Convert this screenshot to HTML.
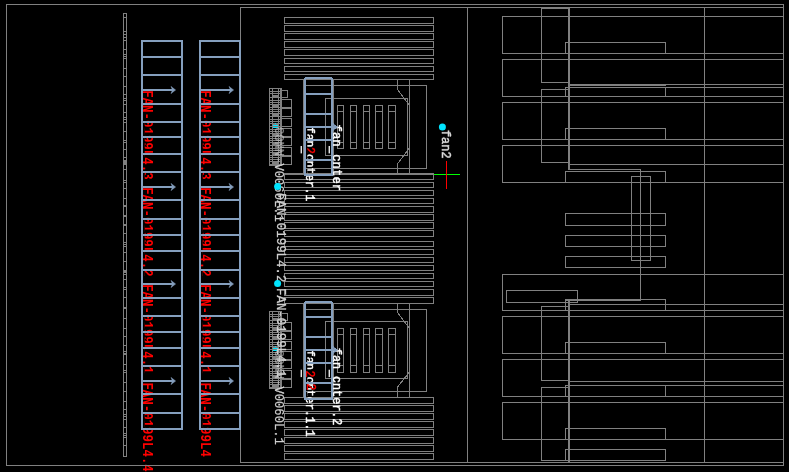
<!DOCTYPE html>
<html><head><meta charset="utf-8"><title>fan layout</title>
<style>
html,body{margin:0;padding:0;background:#000;overflow:hidden}
svg{display:block}
text{font-family:"Liberation Mono",monospace}
</style></head>
<body>
<svg width="789" height="472" viewBox="0 0 789 472">
<defs><clipPath id="half" clipPathUnits="userSpaceOnUse"><rect x="144.7" y="0" width="20" height="429"/><rect x="202.7" y="0" width="20" height="429"/><rect x="130" y="429" width="120" height="43"/></clipPath><clipPath id="half2" clipPathUnits="userSpaceOnUse"><rect x="307.4" y="0" width="200" height="472"/><rect x="300" y="175" width="10" height="125"/><rect x="300" y="399" width="10" height="73"/></clipPath></defs>
<rect width="789" height="472" fill="#000"/>
<g opacity="0.999"><text transform="translate(143 90.20) rotate(90) scale(0.9 1)" font-size="13.8" fill="#ff0000" font-weight="bold">FAN-</text><g clip-path="url(#half)"><text transform="translate(143 120.01) rotate(90) scale(0.9 1)" font-size="13.8" fill="#ff0000" font-weight="bold">0199L</text></g><text transform="translate(143 157.27) rotate(90) scale(0.9 1)" font-size="13.8" fill="#ff0000" font-weight="bold">4.</text><g clip-path="url(#half)"><text transform="translate(143 172.17) rotate(90) scale(0.9 1)" font-size="13.8" fill="#ff0000" font-weight="bold">3</text></g><text transform="translate(143 187.20) rotate(90) scale(0.9 1)" font-size="13.8" fill="#ff0000" font-weight="bold">FAN-</text><g clip-path="url(#half)"><text transform="translate(143 217.01) rotate(90) scale(0.9 1)" font-size="13.8" fill="#ff0000" font-weight="bold">0199L</text></g><text transform="translate(143 254.27) rotate(90) scale(0.9 1)" font-size="13.8" fill="#ff0000" font-weight="bold">4.</text><g clip-path="url(#half)"><text transform="translate(143 269.17) rotate(90) scale(0.9 1)" font-size="13.8" fill="#ff0000" font-weight="bold">2</text></g><text transform="translate(143 284.20) rotate(90) scale(0.9 1)" font-size="13.8" fill="#ff0000" font-weight="bold">FAN-</text><g clip-path="url(#half)"><text transform="translate(143 314.01) rotate(90) scale(0.9 1)" font-size="13.8" fill="#ff0000" font-weight="bold">0199L</text></g><text transform="translate(143 351.27) rotate(90) scale(0.9 1)" font-size="13.8" fill="#ff0000" font-weight="bold">4.</text><g clip-path="url(#half)"><text transform="translate(143 366.17) rotate(90) scale(0.9 1)" font-size="13.8" fill="#ff0000" font-weight="bold">1</text></g><text transform="translate(201 90.20) rotate(90) scale(0.9 1)" font-size="13.8" fill="#ff0000" font-weight="bold">FAN-</text><g clip-path="url(#half)"><text transform="translate(201 120.01) rotate(90) scale(0.9 1)" font-size="13.8" fill="#ff0000" font-weight="bold">0199L</text></g><text transform="translate(201 157.27) rotate(90) scale(0.9 1)" font-size="13.8" fill="#ff0000" font-weight="bold">4.</text><g clip-path="url(#half)"><text transform="translate(201 172.17) rotate(90) scale(0.9 1)" font-size="13.8" fill="#ff0000" font-weight="bold">3</text></g><text transform="translate(201 187.20) rotate(90) scale(0.9 1)" font-size="13.8" fill="#ff0000" font-weight="bold">FAN-</text><g clip-path="url(#half)"><text transform="translate(201 217.01) rotate(90) scale(0.9 1)" font-size="13.8" fill="#ff0000" font-weight="bold">0199L</text></g><text transform="translate(201 254.27) rotate(90) scale(0.9 1)" font-size="13.8" fill="#ff0000" font-weight="bold">4.</text><g clip-path="url(#half)"><text transform="translate(201 269.17) rotate(90) scale(0.9 1)" font-size="13.8" fill="#ff0000" font-weight="bold">2</text></g><text transform="translate(201 284.20) rotate(90) scale(0.9 1)" font-size="13.8" fill="#ff0000" font-weight="bold">FAN-</text><g clip-path="url(#half)"><text transform="translate(201 314.01) rotate(90) scale(0.9 1)" font-size="13.8" fill="#ff0000" font-weight="bold">0199L</text></g><text transform="translate(201 351.27) rotate(90) scale(0.9 1)" font-size="13.8" fill="#ff0000" font-weight="bold">4.</text><g clip-path="url(#half)"><text transform="translate(201 366.17) rotate(90) scale(0.9 1)" font-size="13.8" fill="#ff0000" font-weight="bold">1</text></g><text transform="translate(143 382.40) rotate(90) scale(0.9 1)" font-size="13.8" fill="#ff0000" font-weight="bold">FAN-</text><g clip-path="url(#half)"><text transform="translate(143 412.21) rotate(90) scale(0.9 1)" font-size="13.8" fill="#ff0000" font-weight="bold">0199L</text></g><text transform="translate(143 449.47) rotate(90) scale(0.9 1)" font-size="13.8" fill="#ff0000" font-weight="bold">4.</text><g clip-path="url(#half)"><text transform="translate(143 464.37) rotate(90) scale(0.9 1)" font-size="13.8" fill="#ff0000" font-weight="bold">4</text></g><text transform="translate(201 382.40) rotate(90) scale(0.9 1)" font-size="13.8" fill="#ff0000" font-weight="bold">FAN-</text><g clip-path="url(#half)"><text transform="translate(201 412.21) rotate(90) scale(0.9 1)" font-size="13.8" fill="#ff0000" font-weight="bold">0199L</text></g><text transform="translate(201 449.47) rotate(90) scale(0.9 1)" font-size="13.8" fill="#ff0000" font-weight="bold">4</text></g>
<g shape-rendering="crispEdges"><rect x="6" y="4" width="778" height="1" fill="#808080"/><rect x="6" y="465" width="778" height="1" fill="#808080"/><rect x="6" y="4" width="1" height="462" fill="#808080"/><rect x="783" y="4" width="1" height="462" fill="#808080"/><rect x="240" y="7" width="544" height="1" fill="#808080"/><rect x="240" y="462" width="544" height="1" fill="#808080"/><rect x="240" y="7" width="1" height="456" fill="#808080"/><rect x="467" y="7" width="1" height="456" fill="#808080"/><rect x="704" y="7" width="1" height="456" fill="#808080"/><rect x="123" y="13" width="1" height="444" fill="#808080"/><rect x="126" y="13" width="1" height="444" fill="#808080"/><rect x="123" y="13" width="4" height="1" fill="#808080"/><rect x="123" y="456" width="4" height="1" fill="#808080"/><rect x="123" y="17" width="4" height="1" fill="#808080"/><rect x="123" y="31" width="4" height="1" fill="#808080"/><rect x="123" y="34" width="4" height="1" fill="#808080"/><rect x="123" y="37" width="4" height="1" fill="#808080"/><rect x="123" y="40" width="4" height="1" fill="#808080"/><rect x="123" y="49" width="4" height="1" fill="#808080"/><rect x="123" y="54" width="4" height="1" fill="#808080"/><rect x="123" y="56" width="4" height="1" fill="#808080"/><rect x="123" y="58" width="4" height="1" fill="#808080"/><rect x="123" y="68" width="4" height="1" fill="#808080"/><rect x="123" y="76" width="4" height="1" fill="#808080"/><rect x="123" y="86" width="4" height="1" fill="#808080"/><rect x="123" y="94" width="4" height="1" fill="#808080"/><rect x="123" y="98" width="4" height="1" fill="#808080"/><rect x="123" y="100" width="4" height="1" fill="#808080"/><rect x="123" y="104" width="4" height="1" fill="#808080"/><rect x="123" y="112" width="4" height="1" fill="#808080"/><rect x="123" y="117" width="4" height="1" fill="#808080"/><rect x="123" y="119" width="4" height="1" fill="#808080"/><rect x="123" y="122" width="4" height="1" fill="#808080"/><rect x="123" y="131" width="4" height="1" fill="#808080"/><rect x="123" y="140" width="4" height="1" fill="#808080"/><rect x="123" y="142" width="4" height="1" fill="#808080"/><rect x="123" y="149" width="4" height="1" fill="#808080"/><rect x="123" y="157" width="4" height="1" fill="#808080"/><rect x="123" y="160" width="4" height="1" fill="#808080"/><rect x="123" y="162" width="4" height="1" fill="#808080"/><rect x="123" y="164" width="4" height="1" fill="#808080"/><rect x="123" y="161" width="4" height="1" fill="#808080"/><rect x="123" y="163" width="4" height="1" fill="#808080"/><rect x="123" y="169" width="4" height="1" fill="#808080"/><rect x="123" y="180" width="4" height="1" fill="#808080"/><rect x="123" y="182" width="4" height="1" fill="#808080"/><rect x="123" y="188" width="4" height="1" fill="#808080"/><rect x="123" y="198" width="4" height="1" fill="#808080"/><rect x="123" y="205" width="4" height="1" fill="#808080"/><rect x="123" y="206" width="4" height="1" fill="#808080"/><rect x="123" y="215" width="4" height="1" fill="#808080"/><rect x="123" y="216" width="4" height="1" fill="#808080"/><rect x="123" y="224" width="4" height="1" fill="#808080"/><rect x="123" y="225" width="4" height="1" fill="#808080"/><rect x="123" y="233" width="4" height="1" fill="#808080"/><rect x="123" y="242" width="4" height="1" fill="#808080"/><rect x="123" y="244" width="4" height="1" fill="#808080"/><rect x="123" y="246" width="4" height="1" fill="#808080"/><rect x="123" y="252" width="4" height="1" fill="#808080"/><rect x="123" y="261" width="4" height="1" fill="#808080"/><rect x="123" y="270" width="4" height="1" fill="#808080"/><rect x="123" y="271" width="4" height="1" fill="#808080"/><rect x="123" y="272" width="4" height="1" fill="#808080"/><rect x="123" y="274" width="4" height="1" fill="#808080"/><rect x="123" y="279" width="4" height="1" fill="#808080"/><rect x="123" y="287" width="4" height="1" fill="#808080"/><rect x="123" y="289" width="4" height="1" fill="#808080"/><rect x="123" y="297" width="4" height="1" fill="#808080"/><rect x="123" y="307" width="4" height="1" fill="#808080"/><rect x="123" y="308" width="4" height="1" fill="#808080"/><rect x="123" y="318" width="4" height="1" fill="#808080"/><rect x="123" y="328" width="4" height="1" fill="#808080"/><rect x="123" y="336" width="4" height="1" fill="#808080"/><rect x="123" y="345" width="4" height="1" fill="#808080"/><rect x="123" y="351" width="4" height="1" fill="#808080"/><rect x="123" y="353" width="4" height="1" fill="#808080"/><rect x="123" y="354" width="4" height="1" fill="#808080"/><rect x="123" y="364" width="4" height="1" fill="#808080"/><rect x="123" y="370" width="4" height="1" fill="#808080"/><rect x="123" y="372" width="4" height="1" fill="#808080"/><rect x="123" y="382" width="4" height="1" fill="#808080"/><rect x="123" y="391" width="4" height="1" fill="#808080"/><rect x="123" y="401" width="4" height="1" fill="#808080"/><rect x="123" y="409" width="4" height="1" fill="#808080"/><rect x="123" y="414" width="4" height="1" fill="#808080"/><rect x="123" y="416" width="4" height="1" fill="#808080"/><rect x="123" y="419" width="4" height="1" fill="#808080"/><rect x="123" y="427" width="4" height="1" fill="#808080"/><rect x="123" y="433" width="4" height="1" fill="#808080"/><rect x="123" y="435" width="4" height="1" fill="#808080"/><rect x="123" y="437" width="4" height="1" fill="#808080"/><rect x="123" y="445" width="4" height="1" fill="#808080"/><rect x="502" y="16" width="282" height="1" fill="#808080"/><rect x="502" y="53" width="282" height="1" fill="#808080"/><rect x="502" y="16" width="1" height="38" fill="#808080"/><rect x="502" y="59" width="282" height="1" fill="#808080"/><rect x="502" y="96" width="282" height="1" fill="#808080"/><rect x="502" y="59" width="1" height="38" fill="#808080"/><rect x="502" y="102" width="282" height="1" fill="#808080"/><rect x="502" y="139" width="282" height="1" fill="#808080"/><rect x="502" y="102" width="1" height="38" fill="#808080"/><rect x="502" y="145" width="282" height="1" fill="#808080"/><rect x="502" y="182" width="282" height="1" fill="#808080"/><rect x="502" y="145" width="1" height="38" fill="#808080"/><rect x="502" y="274" width="282" height="1" fill="#808080"/><rect x="502" y="310" width="282" height="1" fill="#808080"/><rect x="502" y="274" width="1" height="37" fill="#808080"/><rect x="502" y="316" width="282" height="1" fill="#808080"/><rect x="502" y="353" width="282" height="1" fill="#808080"/><rect x="502" y="316" width="1" height="38" fill="#808080"/><rect x="502" y="359" width="282" height="1" fill="#808080"/><rect x="502" y="396" width="282" height="1" fill="#808080"/><rect x="502" y="359" width="1" height="38" fill="#808080"/><rect x="502" y="402" width="282" height="1" fill="#808080"/><rect x="502" y="439" width="282" height="1" fill="#808080"/><rect x="502" y="402" width="1" height="38" fill="#808080"/><rect x="565" y="42" width="101" height="1" fill="#808080"/><rect x="565" y="53" width="101" height="1" fill="#808080"/><rect x="565" y="42" width="1" height="12" fill="#808080"/><rect x="665" y="42" width="1" height="12" fill="#808080"/><rect x="565" y="87" width="101" height="1" fill="#808080"/><rect x="565" y="96" width="101" height="1" fill="#808080"/><rect x="565" y="87" width="1" height="10" fill="#808080"/><rect x="665" y="87" width="1" height="10" fill="#808080"/><rect x="565" y="128" width="101" height="1" fill="#808080"/><rect x="565" y="139" width="101" height="1" fill="#808080"/><rect x="565" y="128" width="1" height="12" fill="#808080"/><rect x="665" y="128" width="1" height="12" fill="#808080"/><rect x="565" y="171" width="101" height="1" fill="#808080"/><rect x="565" y="182" width="101" height="1" fill="#808080"/><rect x="565" y="171" width="1" height="12" fill="#808080"/><rect x="665" y="171" width="1" height="12" fill="#808080"/><rect x="565" y="213" width="101" height="1" fill="#808080"/><rect x="565" y="225" width="101" height="1" fill="#808080"/><rect x="565" y="213" width="1" height="13" fill="#808080"/><rect x="665" y="213" width="1" height="13" fill="#808080"/><rect x="565" y="235" width="101" height="1" fill="#808080"/><rect x="565" y="246" width="101" height="1" fill="#808080"/><rect x="565" y="235" width="1" height="12" fill="#808080"/><rect x="665" y="235" width="1" height="12" fill="#808080"/><rect x="565" y="256" width="101" height="1" fill="#808080"/><rect x="565" y="267" width="101" height="1" fill="#808080"/><rect x="565" y="256" width="1" height="12" fill="#808080"/><rect x="665" y="256" width="1" height="12" fill="#808080"/><rect x="565" y="299" width="101" height="1" fill="#808080"/><rect x="565" y="310" width="101" height="1" fill="#808080"/><rect x="565" y="299" width="1" height="12" fill="#808080"/><rect x="665" y="299" width="1" height="12" fill="#808080"/><rect x="565" y="342" width="101" height="1" fill="#808080"/><rect x="565" y="353" width="101" height="1" fill="#808080"/><rect x="565" y="342" width="1" height="12" fill="#808080"/><rect x="665" y="342" width="1" height="12" fill="#808080"/><rect x="565" y="385" width="101" height="1" fill="#808080"/><rect x="565" y="396" width="101" height="1" fill="#808080"/><rect x="565" y="385" width="1" height="12" fill="#808080"/><rect x="665" y="385" width="1" height="12" fill="#808080"/><rect x="565" y="428" width="101" height="1" fill="#808080"/><rect x="565" y="439" width="101" height="1" fill="#808080"/><rect x="565" y="428" width="1" height="12" fill="#808080"/><rect x="665" y="428" width="1" height="12" fill="#808080"/><rect x="565" y="449" width="101" height="1" fill="#808080"/><rect x="565" y="460" width="101" height="1" fill="#808080"/><rect x="565" y="449" width="1" height="12" fill="#808080"/><rect x="665" y="449" width="1" height="12" fill="#808080"/><rect x="541" y="8" width="28" height="1" fill="#808080"/><rect x="541" y="82" width="28" height="1" fill="#808080"/><rect x="541" y="8" width="1" height="75" fill="#808080"/><rect x="568" y="8" width="1" height="75" fill="#808080"/><rect x="541" y="89" width="28" height="1" fill="#808080"/><rect x="541" y="162" width="28" height="1" fill="#808080"/><rect x="541" y="89" width="1" height="74" fill="#808080"/><rect x="568" y="89" width="1" height="74" fill="#808080"/><rect x="541" y="306" width="28" height="1" fill="#808080"/><rect x="541" y="380" width="28" height="1" fill="#808080"/><rect x="541" y="306" width="1" height="75" fill="#808080"/><rect x="568" y="306" width="1" height="75" fill="#808080"/><rect x="541" y="387" width="28" height="1" fill="#808080"/><rect x="541" y="460" width="28" height="1" fill="#808080"/><rect x="541" y="387" width="1" height="74" fill="#808080"/><rect x="568" y="387" width="1" height="74" fill="#808080"/><rect x="569" y="8" width="1" height="162" fill="#808080"/><rect x="568" y="8" width="1" height="162" fill="#808080"/><rect x="568" y="300" width="1" height="163" fill="#808080"/><rect x="569" y="300" width="1" height="163" fill="#808080"/><rect x="568" y="84" width="98" height="2" fill="#808080"/><rect x="665" y="84" width="119" height="1" fill="#808080"/><rect x="565" y="87" width="219" height="1" fill="#808080"/><rect x="569" y="164" width="215" height="1" fill="#808080"/><rect x="568" y="169" width="73" height="1" fill="#808080"/><rect x="640" y="169" width="1" height="132" fill="#808080"/><rect x="566" y="300" width="75" height="1" fill="#808080"/><rect x="631" y="176" width="20" height="1" fill="#808080"/><rect x="631" y="260" width="20" height="1" fill="#808080"/><rect x="631" y="176" width="1" height="85" fill="#808080"/><rect x="650" y="176" width="1" height="85" fill="#808080"/><rect x="568" y="304" width="216" height="1" fill="#808080"/><rect x="568" y="381" width="216" height="1" fill="#808080"/><rect x="565" y="385" width="219" height="1" fill="#808080"/><rect x="506" y="290" width="72" height="1" fill="#808080"/><rect x="506" y="302" width="72" height="1" fill="#808080"/><rect x="506" y="290" width="1" height="13" fill="#808080"/><rect x="577" y="290" width="1" height="13" fill="#808080"/><rect x="284" y="17" width="150" height="1" fill="#808080"/><rect x="284" y="23" width="150" height="1" fill="#808080"/><rect x="284" y="17" width="1" height="7" fill="#808080"/><rect x="433" y="17" width="1" height="7" fill="#808080"/><rect x="284" y="25" width="150" height="1" fill="#808080"/><rect x="284" y="31" width="150" height="1" fill="#808080"/><rect x="284" y="25" width="1" height="7" fill="#808080"/><rect x="433" y="25" width="1" height="7" fill="#808080"/><rect x="284" y="33" width="150" height="1" fill="#808080"/><rect x="284" y="39" width="150" height="1" fill="#808080"/><rect x="284" y="33" width="1" height="7" fill="#808080"/><rect x="433" y="33" width="1" height="7" fill="#808080"/><rect x="284" y="41" width="150" height="1" fill="#808080"/><rect x="284" y="47" width="150" height="1" fill="#808080"/><rect x="284" y="41" width="1" height="7" fill="#808080"/><rect x="433" y="41" width="1" height="7" fill="#808080"/><rect x="284" y="49" width="150" height="1" fill="#808080"/><rect x="284" y="55" width="150" height="1" fill="#808080"/><rect x="284" y="49" width="1" height="7" fill="#808080"/><rect x="433" y="49" width="1" height="7" fill="#808080"/><rect x="284" y="58" width="150" height="1" fill="#808080"/><rect x="284" y="63" width="150" height="1" fill="#808080"/><rect x="284" y="58" width="1" height="6" fill="#808080"/><rect x="433" y="58" width="1" height="6" fill="#808080"/><rect x="284" y="66" width="150" height="1" fill="#808080"/><rect x="284" y="71" width="150" height="1" fill="#808080"/><rect x="284" y="66" width="1" height="6" fill="#808080"/><rect x="433" y="66" width="1" height="6" fill="#808080"/><rect x="284" y="74" width="150" height="1" fill="#808080"/><rect x="284" y="79" width="150" height="1" fill="#808080"/><rect x="284" y="74" width="1" height="6" fill="#808080"/><rect x="433" y="74" width="1" height="6" fill="#808080"/><rect x="284" y="174" width="150" height="1" fill="#808080"/><rect x="284" y="179" width="150" height="1" fill="#808080"/><rect x="284" y="174" width="1" height="6" fill="#808080"/><rect x="433" y="174" width="1" height="6" fill="#808080"/><rect x="284" y="182" width="150" height="1" fill="#808080"/><rect x="284" y="187" width="150" height="1" fill="#808080"/><rect x="284" y="182" width="1" height="6" fill="#808080"/><rect x="433" y="182" width="1" height="6" fill="#808080"/><rect x="284" y="190" width="150" height="1" fill="#808080"/><rect x="284" y="195" width="150" height="1" fill="#808080"/><rect x="284" y="190" width="1" height="6" fill="#808080"/><rect x="433" y="190" width="1" height="6" fill="#808080"/><rect x="284" y="198" width="150" height="1" fill="#808080"/><rect x="284" y="203" width="150" height="1" fill="#808080"/><rect x="284" y="198" width="1" height="6" fill="#808080"/><rect x="433" y="198" width="1" height="6" fill="#808080"/><rect x="284" y="206" width="150" height="1" fill="#808080"/><rect x="284" y="212" width="150" height="1" fill="#808080"/><rect x="284" y="206" width="1" height="7" fill="#808080"/><rect x="433" y="206" width="1" height="7" fill="#808080"/><rect x="284" y="214" width="150" height="1" fill="#808080"/><rect x="284" y="220" width="150" height="1" fill="#808080"/><rect x="284" y="214" width="1" height="7" fill="#808080"/><rect x="433" y="214" width="1" height="7" fill="#808080"/><rect x="284" y="222" width="150" height="1" fill="#808080"/><rect x="284" y="228" width="150" height="1" fill="#808080"/><rect x="284" y="222" width="1" height="7" fill="#808080"/><rect x="433" y="222" width="1" height="7" fill="#808080"/><rect x="284" y="230" width="150" height="1" fill="#808080"/><rect x="284" y="236" width="150" height="1" fill="#808080"/><rect x="284" y="230" width="1" height="7" fill="#808080"/><rect x="433" y="230" width="1" height="7" fill="#808080"/><rect x="284" y="241" width="150" height="1" fill="#808080"/><rect x="284" y="246" width="150" height="1" fill="#808080"/><rect x="284" y="241" width="1" height="6" fill="#808080"/><rect x="433" y="241" width="1" height="6" fill="#808080"/><rect x="284" y="249" width="150" height="1" fill="#808080"/><rect x="284" y="254" width="150" height="1" fill="#808080"/><rect x="284" y="249" width="1" height="6" fill="#808080"/><rect x="433" y="249" width="1" height="6" fill="#808080"/><rect x="284" y="257" width="150" height="1" fill="#808080"/><rect x="284" y="262" width="150" height="1" fill="#808080"/><rect x="284" y="257" width="1" height="6" fill="#808080"/><rect x="433" y="257" width="1" height="6" fill="#808080"/><rect x="284" y="265" width="150" height="1" fill="#808080"/><rect x="284" y="270" width="150" height="1" fill="#808080"/><rect x="284" y="265" width="1" height="6" fill="#808080"/><rect x="433" y="265" width="1" height="6" fill="#808080"/><rect x="284" y="273" width="150" height="1" fill="#808080"/><rect x="284" y="278" width="150" height="1" fill="#808080"/><rect x="284" y="273" width="1" height="6" fill="#808080"/><rect x="433" y="273" width="1" height="6" fill="#808080"/><rect x="284" y="281" width="150" height="1" fill="#808080"/><rect x="284" y="286" width="150" height="1" fill="#808080"/><rect x="284" y="281" width="1" height="6" fill="#808080"/><rect x="433" y="281" width="1" height="6" fill="#808080"/><rect x="284" y="289" width="150" height="1" fill="#808080"/><rect x="284" y="295" width="150" height="1" fill="#808080"/><rect x="284" y="289" width="1" height="7" fill="#808080"/><rect x="433" y="289" width="1" height="7" fill="#808080"/><rect x="284" y="297" width="150" height="1" fill="#808080"/><rect x="284" y="303" width="150" height="1" fill="#808080"/><rect x="284" y="297" width="1" height="7" fill="#808080"/><rect x="433" y="297" width="1" height="7" fill="#808080"/><rect x="284" y="397" width="150" height="1" fill="#808080"/><rect x="284" y="403" width="150" height="1" fill="#808080"/><rect x="284" y="397" width="1" height="7" fill="#808080"/><rect x="433" y="397" width="1" height="7" fill="#808080"/><rect x="284" y="405" width="150" height="1" fill="#808080"/><rect x="284" y="411" width="150" height="1" fill="#808080"/><rect x="284" y="405" width="1" height="7" fill="#808080"/><rect x="433" y="405" width="1" height="7" fill="#808080"/><rect x="284" y="413" width="150" height="1" fill="#808080"/><rect x="284" y="419" width="150" height="1" fill="#808080"/><rect x="284" y="413" width="1" height="7" fill="#808080"/><rect x="433" y="413" width="1" height="7" fill="#808080"/><rect x="284" y="421" width="150" height="1" fill="#808080"/><rect x="284" y="427" width="150" height="1" fill="#808080"/><rect x="284" y="421" width="1" height="7" fill="#808080"/><rect x="433" y="421" width="1" height="7" fill="#808080"/><rect x="284" y="429" width="150" height="1" fill="#808080"/><rect x="284" y="435" width="150" height="1" fill="#808080"/><rect x="284" y="429" width="1" height="7" fill="#808080"/><rect x="433" y="429" width="1" height="7" fill="#808080"/><rect x="284" y="437" width="150" height="1" fill="#808080"/><rect x="284" y="443" width="150" height="1" fill="#808080"/><rect x="284" y="437" width="1" height="7" fill="#808080"/><rect x="433" y="437" width="1" height="7" fill="#808080"/><rect x="284" y="445" width="150" height="1" fill="#808080"/><rect x="284" y="451" width="150" height="1" fill="#808080"/><rect x="284" y="445" width="1" height="7" fill="#808080"/><rect x="433" y="445" width="1" height="7" fill="#808080"/><rect x="284" y="453" width="150" height="1" fill="#808080"/><rect x="284" y="459" width="150" height="1" fill="#808080"/><rect x="284" y="453" width="1" height="7" fill="#808080"/><rect x="433" y="453" width="1" height="7" fill="#808080"/><rect x="284" y="79" width="150" height="1" fill="#808080"/><rect x="284" y="173" width="150" height="1" fill="#808080"/><rect x="303" y="79" width="1" height="95" fill="#808080"/><rect x="333" y="79" width="1" height="95" fill="#808080"/><rect x="306" y="85" width="121" height="1" fill="#808080"/><rect x="426" y="85" width="1" height="84" fill="#808080"/><rect x="306" y="168" width="121" height="1" fill="#808080"/><rect x="409" y="79" width="1" height="95" fill="#808080"/><rect x="325" y="98" width="83" height="1" fill="#808080"/><rect x="325" y="155" width="83" height="1" fill="#808080"/><rect x="325" y="98" width="1" height="58" fill="#808080"/><rect x="407" y="98" width="1" height="58" fill="#808080"/><rect x="397" y="79" width="1" height="11" fill="#808080"/><rect x="397" y="164" width="1" height="10" fill="#808080"/><path d="M397.5 89.5 L409.5 105.5 M397.5 164 L409.5 148" stroke="#808080" stroke-width="1" fill="none"/><rect x="337" y="105" width="7" height="1" fill="#808080"/><rect x="337" y="148" width="7" height="1" fill="#808080"/><rect x="337" y="105" width="1" height="44" fill="#808080"/><rect x="343" y="105" width="1" height="44" fill="#808080"/><rect x="337" y="111" width="7" height="1" fill="#808080"/><rect x="337" y="142" width="7" height="1" fill="#808080"/><rect x="350" y="105" width="7" height="1" fill="#808080"/><rect x="350" y="148" width="7" height="1" fill="#808080"/><rect x="350" y="105" width="1" height="44" fill="#808080"/><rect x="356" y="105" width="1" height="44" fill="#808080"/><rect x="350" y="111" width="7" height="1" fill="#808080"/><rect x="350" y="142" width="7" height="1" fill="#808080"/><rect x="363" y="105" width="7" height="1" fill="#808080"/><rect x="363" y="148" width="7" height="1" fill="#808080"/><rect x="363" y="105" width="1" height="44" fill="#808080"/><rect x="369" y="105" width="1" height="44" fill="#808080"/><rect x="363" y="111" width="7" height="1" fill="#808080"/><rect x="363" y="142" width="7" height="1" fill="#808080"/><rect x="375" y="105" width="8" height="1" fill="#808080"/><rect x="375" y="148" width="8" height="1" fill="#808080"/><rect x="375" y="105" width="1" height="44" fill="#808080"/><rect x="382" y="105" width="1" height="44" fill="#808080"/><rect x="375" y="111" width="8" height="1" fill="#808080"/><rect x="375" y="142" width="8" height="1" fill="#808080"/><rect x="388" y="105" width="8" height="1" fill="#808080"/><rect x="388" y="148" width="8" height="1" fill="#808080"/><rect x="388" y="105" width="1" height="44" fill="#808080"/><rect x="395" y="105" width="1" height="44" fill="#808080"/><rect x="388" y="111" width="8" height="1" fill="#808080"/><rect x="388" y="142" width="8" height="1" fill="#808080"/><rect x="269" y="88" width="13" height="1" fill="#808080"/><rect x="269" y="165" width="13" height="1" fill="#808080"/><rect x="269" y="88" width="1" height="78" fill="#808080"/><rect x="281" y="88" width="1" height="78" fill="#808080"/><rect x="272" y="88" width="1" height="78" fill="#808080"/><rect x="278" y="88" width="1" height="78" fill="#808080"/><rect x="280" y="88" width="1" height="78" fill="#808080"/><rect x="269" y="91" width="13" height="1" fill="#808080"/><rect x="269" y="93" width="13" height="1" fill="#808080"/><rect x="272" y="95" width="7" height="2" fill="#808080"/><rect x="269" y="97" width="13" height="1" fill="#808080"/><rect x="281" y="90" width="7" height="1" fill="#808080"/><rect x="281" y="97" width="7" height="1" fill="#808080"/><rect x="281" y="90" width="1" height="8" fill="#808080"/><rect x="287" y="90" width="1" height="8" fill="#808080"/><rect x="281" y="99" width="11" height="1" fill="#808080"/><rect x="281" y="107" width="11" height="1" fill="#808080"/><rect x="281" y="99" width="1" height="9" fill="#808080"/><rect x="291" y="99" width="1" height="9" fill="#808080"/><rect x="269" y="100" width="13" height="1" fill="#808080"/><rect x="269" y="102" width="13" height="1" fill="#808080"/><rect x="269" y="104" width="13" height="1" fill="#808080"/><rect x="269" y="107" width="13" height="1" fill="#808080"/><rect x="272" y="105" width="7" height="2" fill="#808080"/><rect x="281" y="108" width="11" height="1" fill="#808080"/><rect x="281" y="116" width="11" height="1" fill="#808080"/><rect x="281" y="108" width="1" height="9" fill="#808080"/><rect x="291" y="108" width="1" height="9" fill="#808080"/><rect x="269" y="109" width="13" height="1" fill="#808080"/><rect x="269" y="111" width="13" height="1" fill="#808080"/><rect x="269" y="113" width="13" height="1" fill="#808080"/><rect x="269" y="116" width="13" height="1" fill="#808080"/><rect x="272" y="114" width="7" height="2" fill="#808080"/><rect x="281" y="118" width="11" height="1" fill="#808080"/><rect x="281" y="126" width="11" height="1" fill="#808080"/><rect x="281" y="118" width="1" height="9" fill="#808080"/><rect x="291" y="118" width="1" height="9" fill="#808080"/><rect x="269" y="119" width="13" height="1" fill="#808080"/><rect x="269" y="121" width="13" height="1" fill="#808080"/><rect x="269" y="123" width="13" height="1" fill="#808080"/><rect x="269" y="126" width="13" height="1" fill="#808080"/><rect x="272" y="124" width="7" height="2" fill="#808080"/><rect x="281" y="128" width="11" height="1" fill="#808080"/><rect x="281" y="136" width="11" height="1" fill="#808080"/><rect x="281" y="128" width="1" height="9" fill="#808080"/><rect x="291" y="128" width="1" height="9" fill="#808080"/><rect x="269" y="129" width="13" height="1" fill="#808080"/><rect x="269" y="131" width="13" height="1" fill="#808080"/><rect x="269" y="133" width="13" height="1" fill="#808080"/><rect x="269" y="136" width="13" height="1" fill="#808080"/><rect x="272" y="134" width="7" height="2" fill="#808080"/><rect x="281" y="137" width="11" height="1" fill="#808080"/><rect x="281" y="145" width="11" height="1" fill="#808080"/><rect x="281" y="137" width="1" height="9" fill="#808080"/><rect x="291" y="137" width="1" height="9" fill="#808080"/><rect x="269" y="138" width="13" height="1" fill="#808080"/><rect x="269" y="140" width="13" height="1" fill="#808080"/><rect x="269" y="142" width="13" height="1" fill="#808080"/><rect x="269" y="145" width="13" height="1" fill="#808080"/><rect x="272" y="143" width="7" height="2" fill="#808080"/><rect x="281" y="147" width="11" height="1" fill="#808080"/><rect x="281" y="155" width="11" height="1" fill="#808080"/><rect x="281" y="147" width="1" height="9" fill="#808080"/><rect x="291" y="147" width="1" height="9" fill="#808080"/><rect x="269" y="148" width="13" height="1" fill="#808080"/><rect x="269" y="150" width="13" height="1" fill="#808080"/><rect x="269" y="152" width="13" height="1" fill="#808080"/><rect x="269" y="155" width="13" height="1" fill="#808080"/><rect x="272" y="153" width="7" height="2" fill="#808080"/><rect x="281" y="156" width="11" height="1" fill="#808080"/><rect x="281" y="164" width="11" height="1" fill="#808080"/><rect x="281" y="156" width="1" height="9" fill="#808080"/><rect x="291" y="156" width="1" height="9" fill="#808080"/><rect x="269" y="157" width="13" height="1" fill="#808080"/><rect x="269" y="159" width="13" height="1" fill="#808080"/><rect x="269" y="161" width="13" height="1" fill="#808080"/><rect x="269" y="164" width="13" height="1" fill="#808080"/><rect x="272" y="162" width="7" height="2" fill="#808080"/><rect x="273" y="125" width="5" height="1" fill="#00e5ff"/><rect x="273" y="127" width="5" height="1" fill="#00e5ff"/><rect x="275" y="123" width="1" height="1" fill="#00e5ff"/><rect x="284" y="303" width="150" height="1" fill="#808080"/><rect x="284" y="397" width="150" height="1" fill="#808080"/><rect x="303" y="303" width="1" height="95" fill="#808080"/><rect x="333" y="303" width="1" height="95" fill="#808080"/><rect x="306" y="309" width="121" height="1" fill="#808080"/><rect x="426" y="309" width="1" height="83" fill="#808080"/><rect x="306" y="391" width="121" height="1" fill="#808080"/><rect x="409" y="303" width="1" height="95" fill="#808080"/><rect x="325" y="321" width="83" height="1" fill="#808080"/><rect x="325" y="378" width="83" height="1" fill="#808080"/><rect x="325" y="321" width="1" height="58" fill="#808080"/><rect x="407" y="321" width="1" height="58" fill="#808080"/><rect x="397" y="303" width="1" height="10" fill="#808080"/><rect x="397" y="387" width="1" height="11" fill="#808080"/><path d="M397.5 312.5 L409.5 328.5 M397.5 387 L409.5 372" stroke="#808080" stroke-width="1" fill="none"/><rect x="337" y="328" width="7" height="1" fill="#808080"/><rect x="337" y="372" width="7" height="1" fill="#808080"/><rect x="337" y="328" width="1" height="45" fill="#808080"/><rect x="343" y="328" width="1" height="45" fill="#808080"/><rect x="337" y="334" width="7" height="1" fill="#808080"/><rect x="337" y="365" width="7" height="1" fill="#808080"/><rect x="350" y="328" width="7" height="1" fill="#808080"/><rect x="350" y="372" width="7" height="1" fill="#808080"/><rect x="350" y="328" width="1" height="45" fill="#808080"/><rect x="356" y="328" width="1" height="45" fill="#808080"/><rect x="350" y="334" width="7" height="1" fill="#808080"/><rect x="350" y="365" width="7" height="1" fill="#808080"/><rect x="363" y="328" width="7" height="1" fill="#808080"/><rect x="363" y="372" width="7" height="1" fill="#808080"/><rect x="363" y="328" width="1" height="45" fill="#808080"/><rect x="369" y="328" width="1" height="45" fill="#808080"/><rect x="363" y="334" width="7" height="1" fill="#808080"/><rect x="363" y="365" width="7" height="1" fill="#808080"/><rect x="375" y="328" width="8" height="1" fill="#808080"/><rect x="375" y="372" width="8" height="1" fill="#808080"/><rect x="375" y="328" width="1" height="45" fill="#808080"/><rect x="382" y="328" width="1" height="45" fill="#808080"/><rect x="375" y="334" width="8" height="1" fill="#808080"/><rect x="375" y="365" width="8" height="1" fill="#808080"/><rect x="388" y="328" width="8" height="1" fill="#808080"/><rect x="388" y="372" width="8" height="1" fill="#808080"/><rect x="388" y="328" width="1" height="45" fill="#808080"/><rect x="395" y="328" width="1" height="45" fill="#808080"/><rect x="388" y="334" width="8" height="1" fill="#808080"/><rect x="388" y="365" width="8" height="1" fill="#808080"/><rect x="269" y="311" width="13" height="1" fill="#808080"/><rect x="269" y="388" width="13" height="1" fill="#808080"/><rect x="269" y="311" width="1" height="78" fill="#808080"/><rect x="281" y="311" width="1" height="78" fill="#808080"/><rect x="272" y="311" width="1" height="78" fill="#808080"/><rect x="278" y="311" width="1" height="78" fill="#808080"/><rect x="280" y="311" width="1" height="78" fill="#808080"/><rect x="269" y="314" width="13" height="1" fill="#808080"/><rect x="269" y="316" width="13" height="1" fill="#808080"/><rect x="272" y="318" width="7" height="2" fill="#808080"/><rect x="269" y="320" width="13" height="1" fill="#808080"/><rect x="281" y="313" width="7" height="1" fill="#808080"/><rect x="281" y="320" width="7" height="1" fill="#808080"/><rect x="281" y="313" width="1" height="8" fill="#808080"/><rect x="287" y="313" width="1" height="8" fill="#808080"/><rect x="281" y="322" width="11" height="1" fill="#808080"/><rect x="281" y="330" width="11" height="1" fill="#808080"/><rect x="281" y="322" width="1" height="9" fill="#808080"/><rect x="291" y="322" width="1" height="9" fill="#808080"/><rect x="269" y="323" width="13" height="1" fill="#808080"/><rect x="269" y="325" width="13" height="1" fill="#808080"/><rect x="269" y="327" width="13" height="1" fill="#808080"/><rect x="269" y="330" width="13" height="1" fill="#808080"/><rect x="272" y="328" width="7" height="2" fill="#808080"/><rect x="281" y="331" width="11" height="1" fill="#808080"/><rect x="281" y="339" width="11" height="1" fill="#808080"/><rect x="281" y="331" width="1" height="9" fill="#808080"/><rect x="291" y="331" width="1" height="9" fill="#808080"/><rect x="269" y="332" width="13" height="1" fill="#808080"/><rect x="269" y="334" width="13" height="1" fill="#808080"/><rect x="269" y="336" width="13" height="1" fill="#808080"/><rect x="269" y="339" width="13" height="1" fill="#808080"/><rect x="272" y="337" width="7" height="2" fill="#808080"/><rect x="281" y="341" width="11" height="1" fill="#808080"/><rect x="281" y="349" width="11" height="1" fill="#808080"/><rect x="281" y="341" width="1" height="9" fill="#808080"/><rect x="291" y="341" width="1" height="9" fill="#808080"/><rect x="269" y="342" width="13" height="1" fill="#808080"/><rect x="269" y="344" width="13" height="1" fill="#808080"/><rect x="269" y="346" width="13" height="1" fill="#808080"/><rect x="269" y="349" width="13" height="1" fill="#808080"/><rect x="272" y="347" width="7" height="2" fill="#808080"/><rect x="281" y="351" width="11" height="1" fill="#808080"/><rect x="281" y="359" width="11" height="1" fill="#808080"/><rect x="281" y="351" width="1" height="9" fill="#808080"/><rect x="291" y="351" width="1" height="9" fill="#808080"/><rect x="269" y="352" width="13" height="1" fill="#808080"/><rect x="269" y="354" width="13" height="1" fill="#808080"/><rect x="269" y="356" width="13" height="1" fill="#808080"/><rect x="269" y="359" width="13" height="1" fill="#808080"/><rect x="272" y="357" width="7" height="2" fill="#808080"/><rect x="281" y="360" width="11" height="1" fill="#808080"/><rect x="281" y="368" width="11" height="1" fill="#808080"/><rect x="281" y="360" width="1" height="9" fill="#808080"/><rect x="291" y="360" width="1" height="9" fill="#808080"/><rect x="269" y="361" width="13" height="1" fill="#808080"/><rect x="269" y="363" width="13" height="1" fill="#808080"/><rect x="269" y="365" width="13" height="1" fill="#808080"/><rect x="269" y="368" width="13" height="1" fill="#808080"/><rect x="272" y="366" width="7" height="2" fill="#808080"/><rect x="281" y="370" width="11" height="1" fill="#808080"/><rect x="281" y="378" width="11" height="1" fill="#808080"/><rect x="281" y="370" width="1" height="9" fill="#808080"/><rect x="291" y="370" width="1" height="9" fill="#808080"/><rect x="269" y="371" width="13" height="1" fill="#808080"/><rect x="269" y="373" width="13" height="1" fill="#808080"/><rect x="269" y="375" width="13" height="1" fill="#808080"/><rect x="269" y="378" width="13" height="1" fill="#808080"/><rect x="272" y="376" width="7" height="2" fill="#808080"/><rect x="281" y="379" width="11" height="1" fill="#808080"/><rect x="281" y="387" width="11" height="1" fill="#808080"/><rect x="281" y="379" width="1" height="9" fill="#808080"/><rect x="291" y="379" width="1" height="9" fill="#808080"/><rect x="269" y="380" width="13" height="1" fill="#808080"/><rect x="269" y="382" width="13" height="1" fill="#808080"/><rect x="269" y="384" width="13" height="1" fill="#808080"/><rect x="269" y="387" width="13" height="1" fill="#808080"/><rect x="272" y="385" width="7" height="2" fill="#808080"/><rect x="273" y="348" width="5" height="1" fill="#00e5ff"/><rect x="273" y="350" width="5" height="1" fill="#00e5ff"/><rect x="275" y="346" width="1" height="1" fill="#00e5ff"/></g>
<g><rect x="141" y="40" width="2" height="390" fill="#859fbe"/><rect x="181" y="40" width="2" height="390" fill="#859fbe"/><rect x="141" y="40" width="42" height="2" fill="#859fbe"/><rect x="141" y="428" width="42" height="2" fill="#859fbe"/><rect x="141" y="56" width="41" height="2" fill="#859fbe"/><rect x="141" y="74" width="41" height="2" fill="#859fbe"/><rect x="141" y="103" width="41" height="2" fill="#859fbe"/><rect x="141" y="121" width="41" height="2" fill="#859fbe"/><rect x="141" y="136" width="41" height="2" fill="#859fbe"/><rect x="141" y="153" width="41" height="2" fill="#859fbe"/><rect x="141" y="171" width="41" height="2" fill="#859fbe"/><rect x="141" y="199" width="41" height="2" fill="#859fbe"/><rect x="141" y="218" width="41" height="2" fill="#859fbe"/><rect x="141" y="234" width="41" height="2" fill="#859fbe"/><rect x="141" y="250" width="41" height="2" fill="#859fbe"/><rect x="141" y="269" width="41" height="2" fill="#859fbe"/><rect x="141" y="297" width="41" height="2" fill="#859fbe"/><rect x="141" y="315" width="41" height="2" fill="#859fbe"/><rect x="141" y="331" width="41" height="2" fill="#859fbe"/><rect x="141" y="347" width="41" height="2" fill="#859fbe"/><rect x="141" y="365" width="41" height="2" fill="#859fbe"/><rect x="141" y="393" width="41" height="2" fill="#859fbe"/><rect x="141" y="412" width="41" height="2" fill="#859fbe"/><rect x="141" y="89" width="32" height="2" fill="#859fbe"/><path d="M171 86.4 L175.6 90 L171 93.6 L172.5 90 Z" fill="#859fbe" stroke="#859fbe" stroke-width="0.5" stroke-linejoin="round"/><rect x="141" y="186" width="32" height="2" fill="#859fbe"/><path d="M171 183.4 L175.6 187 L171 190.6 L172.5 187 Z" fill="#859fbe" stroke="#859fbe" stroke-width="0.5" stroke-linejoin="round"/><rect x="141" y="283" width="32" height="2" fill="#859fbe"/><path d="M171 280.4 L175.6 284 L171 287.6 L172.5 284 Z" fill="#859fbe" stroke="#859fbe" stroke-width="0.5" stroke-linejoin="round"/><rect x="141" y="380" width="32" height="2" fill="#859fbe"/><path d="M171 377.4 L175.6 381 L171 384.6 L172.5 381 Z" fill="#859fbe" stroke="#859fbe" stroke-width="0.5" stroke-linejoin="round"/><rect x="199" y="40" width="2" height="390" fill="#859fbe"/><rect x="239" y="40" width="2" height="390" fill="#859fbe"/><rect x="199" y="40" width="42" height="2" fill="#859fbe"/><rect x="199" y="428" width="42" height="2" fill="#859fbe"/><rect x="199" y="56" width="41" height="2" fill="#859fbe"/><rect x="199" y="74" width="41" height="2" fill="#859fbe"/><rect x="199" y="103" width="41" height="2" fill="#859fbe"/><rect x="199" y="121" width="41" height="2" fill="#859fbe"/><rect x="199" y="136" width="41" height="2" fill="#859fbe"/><rect x="199" y="153" width="41" height="2" fill="#859fbe"/><rect x="199" y="171" width="41" height="2" fill="#859fbe"/><rect x="199" y="199" width="41" height="2" fill="#859fbe"/><rect x="199" y="218" width="41" height="2" fill="#859fbe"/><rect x="199" y="234" width="41" height="2" fill="#859fbe"/><rect x="199" y="250" width="41" height="2" fill="#859fbe"/><rect x="199" y="269" width="41" height="2" fill="#859fbe"/><rect x="199" y="297" width="41" height="2" fill="#859fbe"/><rect x="199" y="315" width="41" height="2" fill="#859fbe"/><rect x="199" y="331" width="41" height="2" fill="#859fbe"/><rect x="199" y="347" width="41" height="2" fill="#859fbe"/><rect x="199" y="365" width="41" height="2" fill="#859fbe"/><rect x="199" y="393" width="41" height="2" fill="#859fbe"/><rect x="199" y="412" width="41" height="2" fill="#859fbe"/><rect x="199" y="89" width="32" height="2" fill="#859fbe"/><path d="M229 86.4 L233.6 90 L229 93.6 L230.5 90 Z" fill="#859fbe" stroke="#859fbe" stroke-width="0.5" stroke-linejoin="round"/><rect x="199" y="186" width="32" height="2" fill="#859fbe"/><path d="M229 183.4 L233.6 187 L229 190.6 L230.5 187 Z" fill="#859fbe" stroke="#859fbe" stroke-width="0.5" stroke-linejoin="round"/><rect x="199" y="283" width="32" height="2" fill="#859fbe"/><path d="M229 280.4 L233.6 284 L229 287.6 L230.5 284 Z" fill="#859fbe" stroke="#859fbe" stroke-width="0.5" stroke-linejoin="round"/><rect x="199" y="380" width="32" height="2" fill="#859fbe"/><path d="M229 377.4 L233.6 381 L229 384.6 L230.5 381 Z" fill="#859fbe" stroke="#859fbe" stroke-width="0.5" stroke-linejoin="round"/></g>
<g opacity="0.999"><text transform="translate(275 127) rotate(90) scale(0.901 1)" font-size="13.5" fill="#d0d0d0" stroke="#d0d0d0" stroke-width="0.2" opacity="0.6">CONN-</text><text transform="translate(275 163.5) rotate(90) scale(0.901 1)" font-size="13.5" fill="#d0d0d0" stroke="#d0d0d0" stroke-width="0.25" opacity="1">V0060L.1</text><text transform="translate(275 350) rotate(90) scale(0.901 1)" font-size="13.5" fill="#d0d0d0" stroke="#d0d0d0" stroke-width="0.2" opacity="0.6">CONN-</text><text transform="translate(275 386.5) rotate(90) scale(0.901 1)" font-size="13.5" fill="#d0d0d0" stroke="#d0d0d0" stroke-width="0.25" opacity="1">V0060L.1</text><text transform="translate(277.2 193) rotate(90) scale(0.920 1)" font-size="13.5" fill="#d0d0d0" stroke="#d0d0d0" stroke-width="0.3" opacity="1">FAN-0199L4.2</text><text transform="translate(277.2 288) rotate(90) scale(0.920 1)" font-size="13.5" fill="#d0d0d0" stroke="#d0d0d0" stroke-width="0.3" opacity="1">FAN-0199L4.1</text><g clip-path="url(#half2)"><text transform="translate(305.5 127.0) rotate(90) scale(0.833 1)" font-size="13.5" fill="#ffffff" stroke="#ffffff" stroke-width="0.45" opacity="1">fan cnter.1</text><text transform="translate(333 124.5) rotate(90) scale(0.916 1)" font-size="13.5" fill="#ffffff" stroke="#ffffff" stroke-width="0.45" opacity="1">fan cnter</text><text transform="translate(305.5 147) rotate(90) scale(0.864 1)" font-size="13.5" fill="#ff0000" stroke="#ff0000" stroke-width="0.45" opacity="1">2</text><text transform="translate(305.5 350.0) rotate(90) scale(0.825 1)" font-size="13.5" fill="#ffffff" stroke="#ffffff" stroke-width="0.45" opacity="1">fan cnter.1.1</text></g><text transform="translate(333 348.0) rotate(90) scale(0.867 1)" font-size="13.5" fill="#ffffff" stroke="#ffffff" stroke-width="0.45" opacity="1">fan cnter.2</text><text transform="translate(305.5 370.5) rotate(90) scale(0.864 1)" font-size="13.5" fill="#ff0000" stroke="#ff0000" stroke-width="0.45" opacity="1">2</text><text transform="translate(306.5 383.5) rotate(90) scale(0.864 1)" font-size="13.5" fill="#ff0000" stroke="#ff0000" stroke-width="0.45" opacity="1">2</text><text transform="translate(442 129.8) rotate(90) scale(0.889 1)" font-size="13.5" fill="#e0e0e0" stroke="#e0e0e0" stroke-width="0.45" opacity="1">fan2</text><rect x="300.6" y="146" width="1.3" height="7.4" fill="#fff"/><rect x="328.6" y="146" width="1.3" height="7.4" fill="#fff"/><rect x="300.6" y="369.7" width="1.3" height="7.4" fill="#fff"/><rect x="328.6" y="369.7" width="1.3" height="7.4" fill="#fff"/></g>
<g shape-rendering="crispEdges"><rect x="304" y="78" width="2" height="98" fill="#859fbe"/><rect x="331" y="78" width="2" height="98" fill="#859fbe"/><rect x="305" y="77" width="27" height="2" fill="#859fbe"/><rect x="305" y="93" width="27" height="2" fill="#859fbe"/><rect x="305" y="113" width="27" height="2" fill="#859fbe"/><rect x="305" y="139" width="27" height="2" fill="#859fbe"/><rect x="305" y="159" width="27" height="2" fill="#859fbe"/><rect x="304" y="174" width="29" height="2" fill="#859fbe"/><rect x="305" y="126" width="30" height="2" fill="#859fbe"/><path d="M333 123.4 L337.6 127 L333 130.6 L334.5 127 Z" fill="#859fbe" stroke="#859fbe" stroke-width="0.5"/><rect x="304" y="302" width="2" height="98" fill="#859fbe"/><rect x="331" y="302" width="2" height="98" fill="#859fbe"/><rect x="305" y="301" width="27" height="2" fill="#859fbe"/><rect x="305" y="316" width="27" height="2" fill="#859fbe"/><rect x="305" y="336" width="27" height="2" fill="#859fbe"/><rect x="305" y="362" width="27" height="2" fill="#859fbe"/><rect x="305" y="382" width="27" height="2" fill="#859fbe"/><rect x="304" y="398" width="29" height="2" fill="#859fbe"/><rect x="305" y="349" width="30" height="2" fill="#859fbe"/><path d="M333 346.4 L337.6 350 L333 353.6 L334.5 350 Z" fill="#859fbe" stroke="#859fbe" stroke-width="0.5"/></g>
<rect x="434" y="174" width="26" height="1" fill="#00ff00" shape-rendering="crispEdges"/><rect x="446" y="161" width="1" height="28" fill="#ff0000" shape-rendering="crispEdges"/><circle cx="442.4" cy="126.9" r="3.5" fill="#00e5ff"/><circle cx="277.6" cy="186.4" r="3.5" fill="#00e5ff"/><circle cx="277.6" cy="283.6" r="3.5" fill="#00e5ff"/>
</svg>
</body></html>
